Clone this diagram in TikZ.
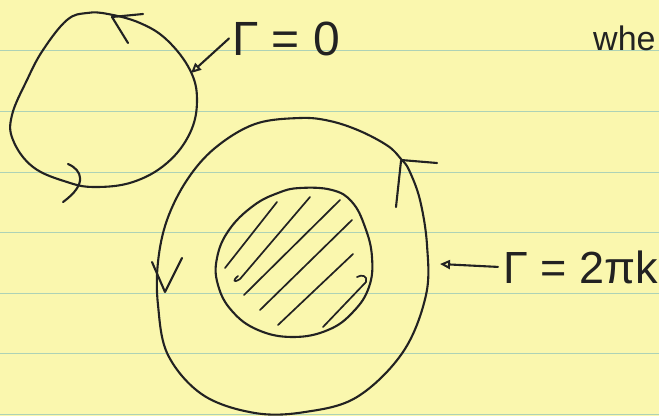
\documentclass[tikz,border=0pt]{standalone}
\usepackage{fontspec}
\newfontfamily\hand{Liberation Sans}
\usetikzlibrary{arrows.meta}
\definecolor{paper}{HTML}{FAF7AE}
\definecolor{rule}{HTML}{ADD2B6}
\definecolor{ink}{HTML}{222222}
\tikzset{
  pen/.style={draw=ink, line width=2.1pt, line cap=round, line join=round},
  hatch/.style={draw=ink, line width=1.7pt, line cap=round, line join=round},
  ruleline/.style={draw=rule, line width=1pt},
  label/.style={text=ink, inner sep=0pt},
  pointer/.style={pen, -{Triangle[open, length=10pt, width=9pt, line width=2pt]}},
}
\begin{document}
\begin{tikzpicture}[x=1pt,y=-1pt]
\fill[paper] (0,0) rectangle (659,416);
\useasboundingbox (0,0) rectangle (659,416);
% ruled lines
\foreach \yy in {50,111,172,232,293,353,414} {\draw[ruleline] (0,\yy) -- (659,\yy);}
% small loop
\draw[pen] plot[smooth cycle, tension=0.65] coordinates {(87,13) (67,20) (43,50) (27,80) (12,115) (13,140) (33,167) (67,182) (95,187) (133,182) (167,163) (190,133) (197,100) (190,70) (167,40) (140,23) (108,14)};
\coordinate (sTip) at (191,73);
\draw[pen] (112,17) -- (143,14);
\draw[pen] (112,17) -- (128,43);
\draw[pen] (68,164) .. controls (82,170) and (88,184) .. (63,202);
% outer loop
\draw[pen] plot[smooth cycle, tension=0.6] coordinates {(300,118) (255,124) (215,148) (187,180) (167,220) (158,262) (158,305) (168,355) (203,395) (255,413) (305,412) (357,397) (403,352) (426,295) (427,245) (420,200) (409,170) (401,159) (388,146) (360,131) (330,121)};
\draw[pen] (401,160) -- (437,163);
\draw[pen] (401,161) -- (396,207);
\draw[pen] (152,262) -- (165,292) -- (182,258);
% inner disk
\draw[pen] plot[smooth cycle, tension=0.7] coordinates {(300,188) (332,190) (352,202) (365,227) (372,257) (369,287) (353,312) (328,330) (293,337) (258,330) (232,311) (218,285) (217,258) (229,230) (253,206) (278,193)};
% hatching
\draw[hatch] (225,268) -- (277,202);
\draw[hatch] (238,276) .. controls (232,281) and (234,283) .. (240,279) -- (310,197);
\draw[hatch] (244,295) -- (340,200);
\draw[hatch] (260,310) -- (352,220);
\draw[hatch] (278,325) -- (353,254);
\draw[hatch] (323,327) -- (366,282) .. controls (368,276) and (362,274) .. (357,277);
% labels
\node[label, anchor=base west, font=\hand\fontsize{48}{50}\selectfont] (g0) at (232,55) {Γ = 0};
\node[label, anchor=base west, font=\hand\fontsize{45}{50}\selectfont] (g2) at (503,283) {Γ = 2πk};
\node[label, anchor=base west, font=\hand\fontsize{34}{38}\selectfont] (whe) at (593,50) {whe};
\coordinate (bTip) at (440,264);
\draw[pointer] ([xshift=-3pt]g0.west) -- (sTip);
\draw[pointer] ([xshift=-5pt]g2.west) -- (bTip);
\end{tikzpicture}
\end{document}
